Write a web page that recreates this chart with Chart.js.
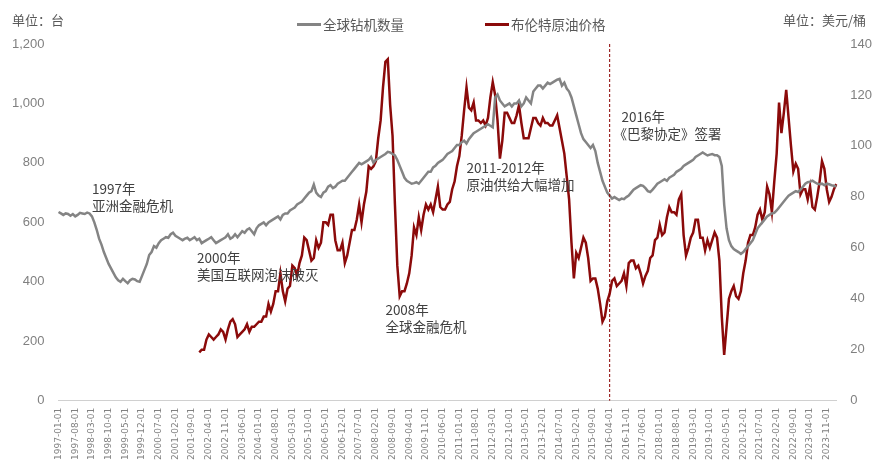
<!DOCTYPE html>
<html>
<head>
<meta charset="utf-8">
<script src="https://cdn.jsdelivr.net/npm/chart.js@4.4.1/dist/chart.umd.min.js"></script>
<style>
  body { margin: 0; background: #fff; font-family: "Noto Sans CJK SC", sans-serif; }
  #wrap { position: relative; width: 880px; height: 463px; }
  .unit { position: absolute; top: 10px; font-size: 13px; color: #595959; }
  .leg { position: absolute; top: 14px; font-size: 13.5px; color: #595959; display: flex; align-items: center; }
  .leg i { display: inline-block; width: 24px; height: 3px; margin-right: 2px; }
</style>
</head>
<body>
<div id="wrap">
  <div class="unit" style="left:12px">单位：台</div>
  <div class="unit" style="right:14px">单位：美元/桶</div>
  <div class="leg" style="left:297px"><i style="background:#848484"></i>全球钻机数量</div>
  <div class="leg" style="left:485px"><i style="background:#8b0a0a"></i>布伦特原油价格</div>
  <canvas id="c" width="880" height="463"></canvas>
</div>
<script>
// Monthly global rig count, 1997-01 .. 2024-03
const rigCount = [
  635, 630, 625, 630, 628, 622, 628, 620, 625, 632, 630, 628,
  633, 630, 620, 600, 575, 545, 525, 500, 480, 460, 445, 430,
  415, 405, 400, 410, 402, 395, 405, 410, 408, 402, 400, 420,
  440, 460, 490, 500, 520, 515, 530, 540, 545, 550, 548, 560,
  565, 555, 550, 545, 540, 545, 548, 540, 545, 550, 540, 545,
  530, 535, 540, 545, 550, 540, 530, 535, 540, 545, 550, 560,
  545, 550, 560, 550, 560, 570, 565, 575, 580, 570, 560, 580,
  590, 595, 600, 590, 600, 605, 610, 615, 620, 610, 625, 630,
  630, 640, 645, 650, 660, 665, 670, 680, 690, 700, 705, 727,
  700, 690, 685, 700, 705, 720, 725, 715, 720, 730, 735, 740,
  740, 750, 760, 770, 780, 790, 800, 795, 800, 805, 810, 820,
  800, 810, 815, 820, 825, 830, 837, 835, 830, 825, 810, 790,
  770, 750, 740, 735, 730, 732, 735, 730, 740, 750, 760, 770,
  770, 785, 790, 800, 805, 810, 820, 830, 835, 840, 850, 860,
  860, 870, 875, 865, 880, 890, 900, 905, 910, 915, 920, 925,
  930, 925, 920, 1020, 1030, 1010, 1000, 990, 995, 1000, 990, 1000,
  1000, 1010, 990, 1000, 1020, 1010, 1000, 1040, 1050, 1060, 1060, 1050,
  1060, 1070, 1065, 1070, 1075, 1080, 1083, 1060, 1070, 1050, 1040, 1020,
  990, 960, 930, 900, 880, 870, 860, 850, 860, 840, 800, 770,
  740, 720, 700, 690, 680, 685, 680, 675, 680, 678, 685, 690,
  700, 710, 715, 720, 725, 723, 715, 705, 702, 710, 720, 730,
  735, 740, 745, 740, 750, 755, 760, 770, 775, 780, 790, 795,
  800, 805, 810, 820, 825, 830, 835, 830, 825, 828, 830, 826,
  826, 820, 790, 660, 580, 540, 520, 510, 505, 500, 494, 500,
  510, 520, 530, 540, 560, 580, 590, 600, 610, 620, 625, 630,
  632, 640, 650, 660, 670, 680, 690, 695, 700, 705, 702, 710,
  720, 730, 735, 737, 740, 735, 730, 728, 730, 725, 730, 728,
  725, 723, 720
];

// Monthly Brent price, starts 2001-12
const brentStart = '2001-12';
const brentPrice = [
  19,
  20, 20, 24, 26, 25, 24, 25, 26, 28, 27, 24, 28,
  31, 32, 30, 25, 26, 27, 28, 30, 27, 29, 29, 30,
  31, 31, 33, 33, 38, 35, 38, 43, 43, 50, 43, 39,
  44, 45, 53, 52, 49, 54, 57, 64, 63, 59, 55, 56,
  63, 60, 62, 70, 70, 69, 73, 73, 63, 59, 59, 62,
  54, 57, 62, 67, 67, 71, 77, 70, 77, 82, 92, 91,
  92, 94, 103, 110, 123, 133, 134, 116, 104, 77, 53, 41,
  43, 43, 46, 50, 57, 68, 65, 72, 67, 73, 77, 75,
  77, 74, 79, 84, 76, 75, 75, 77, 78, 83, 86, 92,
  96, 104, 114, 123, 115, 114, 117, 110, 110, 109, 110, 108,
  111, 119, 125, 120, 110, 95, 102, 113, 113, 111, 109, 109,
  112, 116, 109, 103, 103, 103, 107, 111, 111, 109, 108, 111,
  109, 109, 108, 108, 110, 112, 107, 102, 97, 88, 79, 62,
  48, 58, 56, 60, 64, 62, 56, 47, 48, 48, 44, 38,
  31, 33, 39, 42, 47, 48, 45, 46, 47, 50, 45, 54,
  55, 55, 52, 53, 50, 46, 49, 51, 56, 57, 63, 64,
  69, 65, 66, 72, 76, 74, 74, 73, 79, 81, 65, 57,
  60, 64, 66, 71, 71, 64, 64, 59, 63, 60, 63, 66,
  64, 55, 33, 18, 29, 40, 43, 45, 41, 40, 43, 50,
  55, 62, 65, 65, 68, 73, 75, 71, 74, 84, 81, 74,
  86, 97, 117, 105, 113, 122, 111, 100, 90, 93, 91, 81,
  83, 83, 79, 84, 76, 75, 80, 86, 94, 91, 83, 78,
  80, 83, 85
];

const months = [];
for (let y = 1997; y <= 2024; y++) {
  for (let m = 1; m <= 12; m++) {
    if (y === 2024 && m > 3) break;
    months.push(y + '-' + String(m).padStart(2, '0') + '-01');
  }
}
const brentOffset = months.indexOf(brentStart + '-01');
const brentSeries = months.map((_, i) => i >= brentOffset ? brentPrice[i - brentOffset] : null);

const leftTicks = [0, 200, 400, 600, 800, 1000, 1200];
const rightTicks = [0, 20, 40, 60, 80, 100, 120, 140];
const parisMonth = '2016-04-01';

// [month, left-axis value, line 1, line 2]
const notes = [
  ['1998-03-01', 713, '1997年', '亚洲金融危机'],
  ['2001-11-01', 482, '2000年', '美国互联网泡沫破灭'],
  ['2008-06-01', 304, '2008年', '全球金融危机'],
  ['2011-04-01', 782, '2011-2012年', '原油供给大幅增加'],
  ['2016-09-01', 955, '2016年', '《巴黎协定》签署']
];

const overlay = {
  id: 'overlay',
  afterDatasetsDraw(chart) {
    const { ctx, chartArea, scales } = chart;
    const x = scales.x.getPixelForValue(months.indexOf(parisMonth));
    ctx.save();
    ctx.strokeStyle = '#8b0000';
    ctx.lineWidth = 1;
    ctx.setLineDash([3, 2]);
    ctx.beginPath();
    ctx.moveTo(x, chartArea.top);
    ctx.lineTo(x, chartArea.bottom);
    ctx.stroke();
    ctx.setLineDash([]);
    ctx.font = '13.5px "Noto Sans CJK SC"';
    ctx.fillStyle = '#404040';
    ctx.textBaseline = 'middle';
    notes.forEach(n => {
      const px = scales.x.getPixelForValue(months.indexOf(n[0]));
      const py = scales.y.getPixelForValue(n[1]);
      ctx.fillText(n[2], px, py);
      ctx.fillText(n[3], px - (n[3].startsWith('《') ? 8 : 0), py + 17);
    });
    ctx.restore();
  }
};

new Chart(document.getElementById('c'), {
  type: 'line',
  data: {
    labels: months,
    datasets: [
      {
        label: '全球钻机数量',
        data: rigCount,
        borderColor: '#848484',
        borderWidth: 2.5,
        pointRadius: 0,
        tension: 0,
        yAxisID: 'y'
      },
      {
        label: '布伦特原油价格',
        data: brentSeries,
        borderColor: '#8b0a0a',
        borderWidth: 2.5,
        pointRadius: 0,
        tension: 0,
        yAxisID: 'y1'
      }
    ]
  },
  options: {
    responsive: false,
    animation: false,
    layout: { padding: { left: 6, right: 2, top: 44, bottom: 0 } },
    plugins: {
      tooltip: { enabled: false },
      legend: { display: false }
    },
    scales: {
      x: {
        grid: { display: false, drawTicks: true, tickLength: 4 },
        border: { color: '#d0d0d0' },
        ticks: {
          autoSkip: false,
          maxRotation: 90,
          minRotation: 90,
          color: '#808080',
          font: { size: 9, family: 'DejaVu Sans' },
          callback: function(v, i) { return i % 7 === 0 ? months[i] : null; }
        }
      },
      y: {
        position: 'left',
        min: 0,
        max: 1200,
        afterBuildTicks: ax => { ax.ticks = leftTicks.map(v => ({ value: v })); },
        grid: { display: false },
        border: { display: false },
        ticks: {
          color: '#808080',
          padding: 6,
          font: { size: 13, family: 'Liberation Sans' },
          callback: v => v.toLocaleString('en-US')
        }
      },
      y1: {
        position: 'right',
        min: 0,
        max: 140,
        afterBuildTicks: ax => { ax.ticks = rightTicks.map(v => ({ value: v })); },
        grid: { display: false },
        border: { display: false },
        ticks: {
          color: '#808080',
          padding: 6,
          font: { size: 13, family: 'Liberation Sans' }
        }
      }
    }
  },
  plugins: [overlay]
});
</script>
</body>
</html>
